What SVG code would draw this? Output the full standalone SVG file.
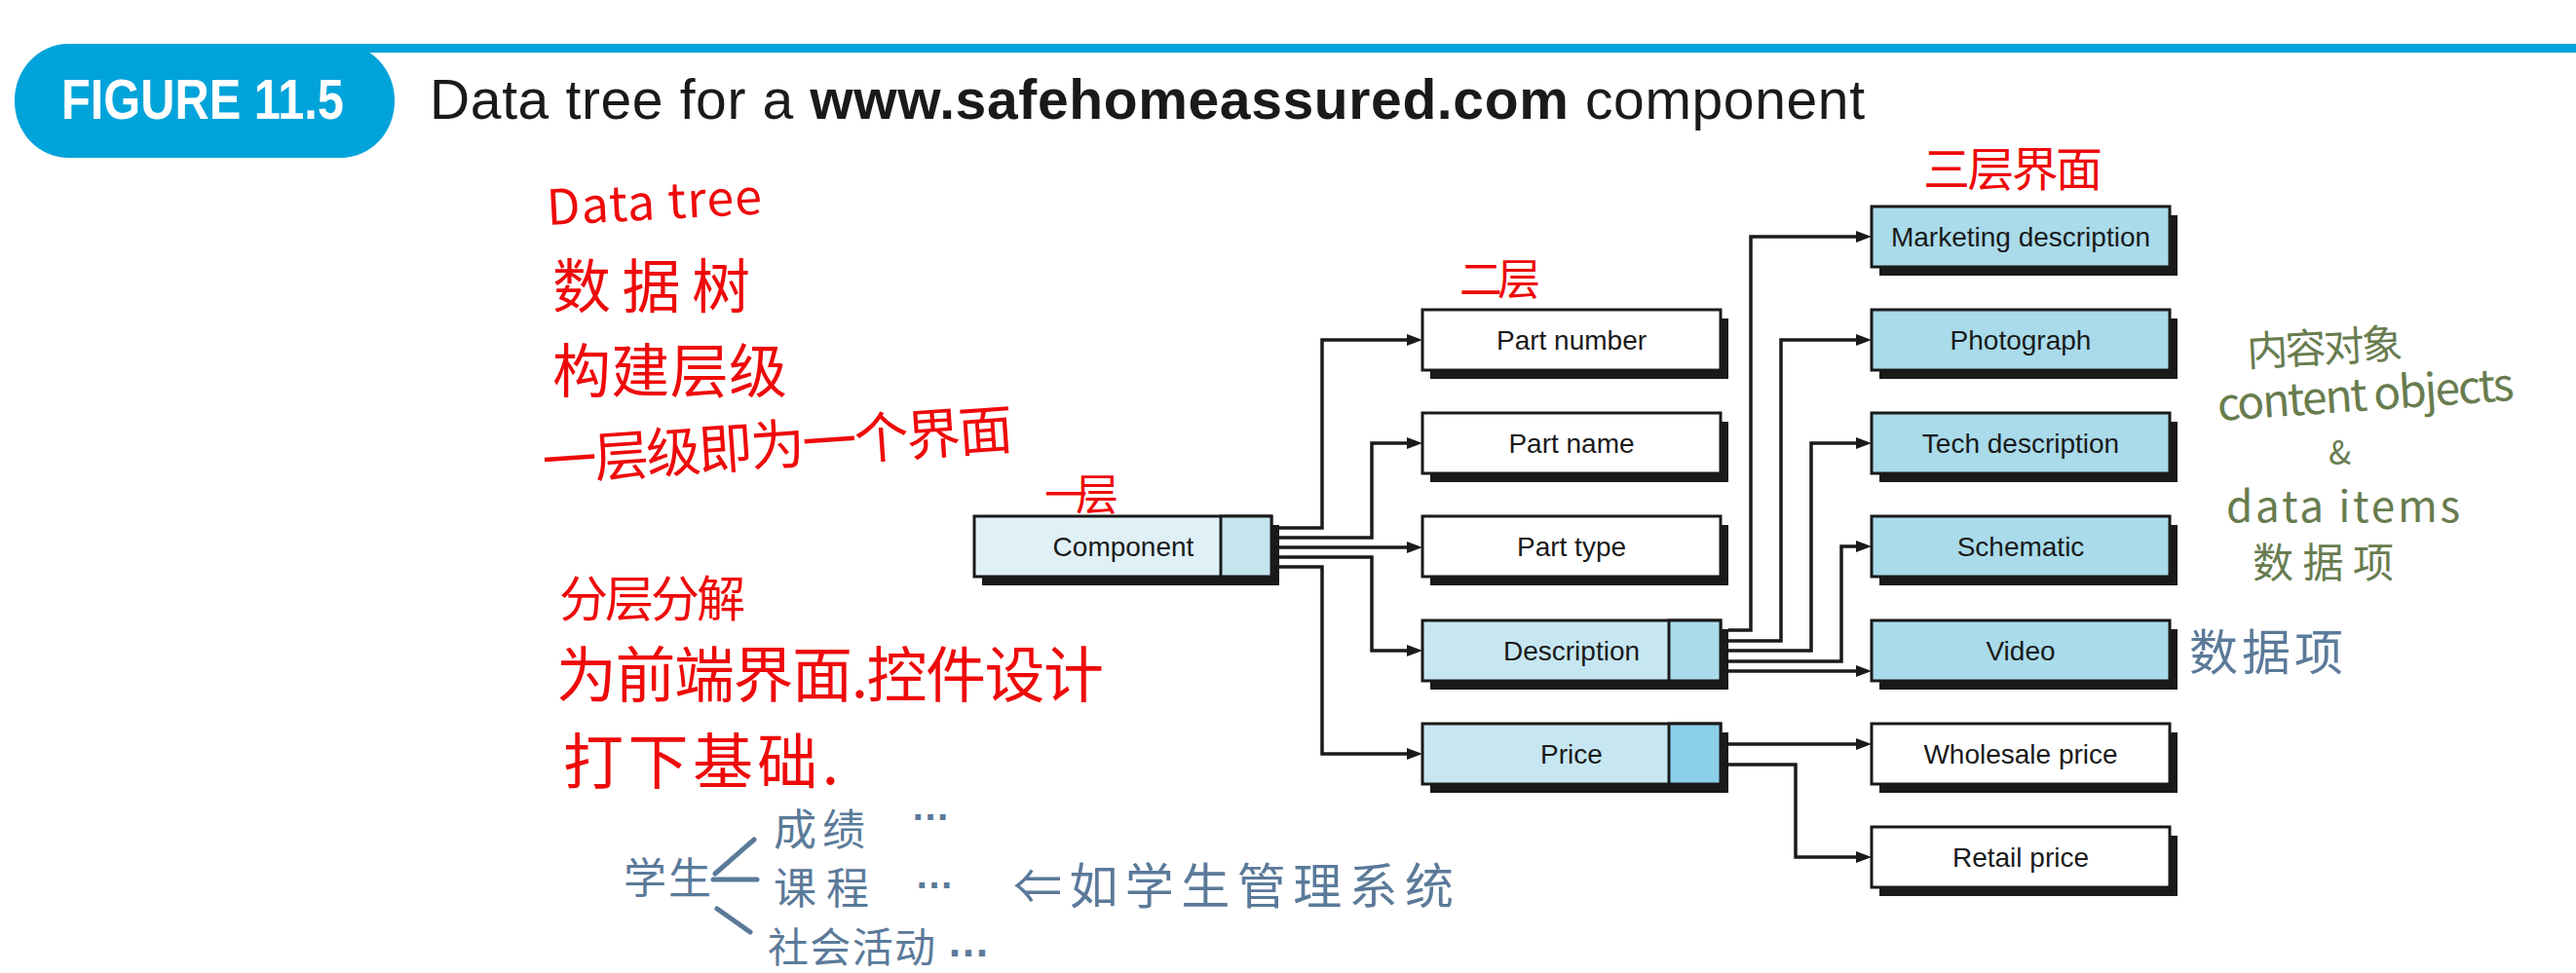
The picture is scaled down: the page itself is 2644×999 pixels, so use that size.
<svg xmlns="http://www.w3.org/2000/svg" width="2644" height="999" viewBox="0 0 2644 999">
<defs>
<style>
.box{stroke:#1a1a1a;stroke-width:3}
.sh{fill:#1a1a1a}
.w{fill:#ffffff}
.b3{fill:#a9dbea}
.lbl{font-family:"Liberation Sans",Arial,sans-serif;font-size:28px;fill:#1a1a1a;text-anchor:middle}
.conn{fill:none;stroke:#1a1a1a;stroke-width:3.5;marker-end:url(#arr)}
.fig{fill:#ffffff;font-family:"Liberation Sans",Arial,sans-serif;font-weight:bold}
.red{fill:#ee0a0a;font-family:"Noto Sans CJK SC","Liberation Sans",sans-serif}
.gb{fill:#5b7a99;font-family:"Noto Sans CJK SC","Liberation Sans",sans-serif}
.gbl{fill:#5b7a99;font-family:"Liberation Sans",Arial,sans-serif;font-weight:bold}
.gr{fill:#687c4f;font-family:"Noto Sans CJK SC","Liberation Sans",sans-serif}
</style>
<marker id="arr" markerUnits="userSpaceOnUse" markerWidth="16" markerHeight="12" viewBox="0 0 16 12" refX="8" refY="6" orient="auto">
<path d="M0,0 L16,6 L0,12 z" fill="#1a1a1a"/>
</marker>
</defs>
<rect width="2644" height="999" fill="#ffffff"/>

<g id="header">
<rect x="200" y="45" width="2444" height="9" fill="#00a3da"/>
<rect x="15" y="45" width="390" height="117" rx="55" ry="58" fill="#00a3da"/>
<text class="fig" x="63" y="122" font-size="58" textLength="290" lengthAdjust="spacingAndGlyphs">FIGURE 11.5</text>
<text x="441" y="122" fill="#1a1a1a" font-family="Liberation Sans,Arial,sans-serif" font-size="57" textLength="1473" lengthAdjust="spacing">Data tree for a <tspan font-weight="bold">www.safehomeassured.com</tspan> component</text>
</g>

<g id="connectors">
<path class="conn" d="M1313,542 H1357 V349 H1452"/>
<path class="conn" d="M1313,552 H1408 V455 H1452"/>
<path class="conn" d="M1313,562 H1452"/>
<path class="conn" d="M1313,572 H1408 V668 H1452"/>
<path class="conn" d="M1313,582 H1357 V774 H1452"/>
<path class="conn" d="M1774,647 H1797 V243 H1913"/>
<path class="conn" d="M1774,658 H1828 V349 H1913"/>
<path class="conn" d="M1774,668 H1859 V455 H1913"/>
<path class="conn" d="M1774,679 H1890 V561 H1913"/>
<path class="conn" d="M1774,689 H1913"/>
<path class="conn" d="M1774,764 H1913"/>
<path class="conn" d="M1774,785 H1843 V880 H1913"/>
</g>

<g id="component">
<rect class="sh" x="1008" y="539" width="305" height="62"/>
<rect class="box" x="1000" y="530" width="305" height="62" fill="#dff0f6"/>
<rect class="box" x="1253" y="530" width="52" height="62" fill="#c4e4ee"/>
<text class="lbl" x="1153" y="571">Component</text>
</g>

<g id="part-number">
<rect class="sh" x="1468" y="327" width="306" height="62"/>
<rect class="box w" x="1460" y="318" width="306" height="62"/>
<text class="lbl" x="1613" y="359">Part number</text>
</g>
<g id="part-name">
<rect class="sh" x="1468" y="433" width="306" height="62"/>
<rect class="box w" x="1460" y="424" width="306" height="62"/>
<text class="lbl" x="1613" y="465">Part name</text>
</g>
<g id="part-type">
<rect class="sh" x="1468" y="539" width="306" height="62"/>
<rect class="box w" x="1460" y="530" width="306" height="62"/>
<text class="lbl" x="1613" y="571">Part type</text>
</g>
<g id="description">
<rect class="sh" x="1468" y="646" width="306" height="62"/>
<rect class="box" x="1460" y="637" width="306" height="62" fill="#c6e7f1"/>
<rect class="box" x="1713" y="637" width="53" height="62" fill="#a9dbea"/>
<text class="lbl" x="1613" y="678">Description</text>
</g>
<g id="price">
<rect class="sh" x="1468" y="752" width="306" height="62"/>
<rect class="box" x="1460" y="743" width="306" height="62" fill="#c6e7f1"/>
<rect class="box" x="1713" y="743" width="53" height="62" fill="#8ccfe9"/>
<text class="lbl" x="1613" y="784">Price</text>
</g>

<g id="marketing-description">
<rect class="sh" x="1929" y="221" width="306" height="62"/>
<rect class="box b3" x="1921" y="212" width="306" height="62"/>
<text class="lbl" x="2074" y="253">Marketing description</text>
</g>
<g id="photograph">
<rect class="sh" x="1929" y="327" width="306" height="62"/>
<rect class="box b3" x="1921" y="318" width="306" height="62"/>
<text class="lbl" x="2074" y="359">Photograph</text>
</g>
<g id="tech-description">
<rect class="sh" x="1929" y="433" width="306" height="62"/>
<rect class="box b3" x="1921" y="424" width="306" height="62"/>
<text class="lbl" x="2074" y="465">Tech description</text>
</g>
<g id="schematic">
<rect class="sh" x="1929" y="539" width="306" height="62"/>
<rect class="box b3" x="1921" y="530" width="306" height="62"/>
<text class="lbl" x="2074" y="571">Schematic</text>
</g>
<g id="video">
<rect class="sh" x="1929" y="646" width="306" height="62"/>
<rect class="box b3" x="1921" y="637" width="306" height="62"/>
<text class="lbl" x="2074" y="678">Video</text>
</g>
<g id="wholesale-price">
<rect class="sh" x="1929" y="752" width="306" height="62"/>
<rect class="box w" x="1921" y="743" width="306" height="62"/>
<text class="lbl" x="2074" y="784">Wholesale price</text>
</g>
<g id="retail-price">
<rect class="sh" x="1929" y="858" width="306" height="62"/>
<rect class="box w" x="1921" y="849" width="306" height="62"/>
<text class="lbl" x="2074" y="890">Retail price</text>
</g>

<g id="annotations-red">
<text class="red" x="562" y="231" font-size="50" textLength="221" lengthAdjust="spacing" transform="rotate(-3 562 231)">Data tree</text>
<text class="red" x="567" y="316" font-size="60" textLength="203" lengthAdjust="spacing">数据树</text>
<text class="red" x="567" y="403" font-size="60" textLength="241" lengthAdjust="spacing">构建层级</text>
<text class="red" x="558" y="494" font-size="56" textLength="484" lengthAdjust="spacing" transform="rotate(-4 558 494)">一层级即为一个界面</text>
<text class="red" x="1072" y="524" font-size="44" textLength="76" lengthAdjust="spacing">一层</text>
<text class="red" x="1498" y="303" font-size="44" textLength="83" lengthAdjust="spacing">二层</text>
<text class="red" x="1974" y="191" font-size="48" textLength="184" lengthAdjust="spacing">三层界面</text>
<text class="red" x="574" y="633" font-size="50" textLength="191" lengthAdjust="spacing">分层分解</text>
<text class="red" x="571" y="716" font-size="62" textLength="562" lengthAdjust="spacing">为前端界面.控件设计</text>
<text class="red" x="578" y="805" font-size="62" textLength="283" lengthAdjust="spacing">打下基础.</text>
</g>

<g id="annotations-blue">
<text class="gb" x="640" y="918" font-size="44" textLength="90" lengthAdjust="spacing">学生</text>
<path d="M734,897 L774,862 M732,903 H777 M736,933 L770,957" fill="none" stroke="#5b7a99" stroke-width="5" stroke-linecap="round"/>
<text class="gb" x="794" y="868" font-size="44" textLength="94" lengthAdjust="spacing">成绩</text>
<text class="gbl" x="935" y="842" font-size="40" textLength="47" lengthAdjust="spacing">…</text>
<text class="gb" x="794" y="928" font-size="44" textLength="98" lengthAdjust="spacing">课程</text>
<text class="gbl" x="939" y="912" font-size="40" textLength="43" lengthAdjust="spacing">…</text>
<text class="gb" x="788" y="988" font-size="42" textLength="172" lengthAdjust="spacing">社会活动</text>
<text class="gbl" x="972" y="982" font-size="44" textLength="61" lengthAdjust="spacing">…</text>
<text class="gb" x="1040" y="928" font-size="50" textLength="452" lengthAdjust="spacing">⇐如学生管理系统</text>
<text class="gb" x="2247" y="688" font-size="50" textLength="158" lengthAdjust="spacing">数据项</text>
</g>

<g id="annotations-green">
<text class="gr" x="2307" y="376" font-size="42" textLength="160" lengthAdjust="spacing" transform="rotate(-3 2307 376)">内容对象</text>
<text class="gr" x="2277" y="432" font-size="46" textLength="305" lengthAdjust="spacing" transform="rotate(-4 2277 432)">content objects</text>
<text class="gr" x="2390" y="477" font-size="34">&amp;</text>
<text class="gr" x="2285" y="536" font-size="44" textLength="240" lengthAdjust="spacing">data items</text>
<text class="gr" x="2312" y="593" font-size="42" textLength="145" lengthAdjust="spacing">数据项</text>
</g>
</svg>
